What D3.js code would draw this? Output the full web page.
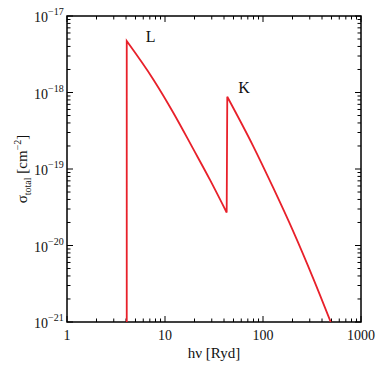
<!DOCTYPE html>
<html>
<head>
<meta charset="utf-8">
<script src="https://cdn.jsdelivr.net/npm/d3@7"></script>
<style>
  body { margin: 0; background: #fff; }
  text { font-family: "Liberation Serif", "DejaVu Serif", serif; fill: #111; }
</style>
</head>
<body>
<div id="chart"></div>
<script>
// photon energy [Ryd] and total cross section [cm^2]
const energyL = [4.07, 7.6, 12.2, 19.4, 28.8, 42.6];
const sigmaL = [4.7e-18, 1.48e-18, 5.4e-19, 1.83e-19, 7.2e-20, 2.7e-20];
const energyK = [43.2, 79.6, 127, 204, 326, 491];
const sigmaK = [8.8e-19, 1.98e-19, 5.7e-20, 1.52e-20, 3.7e-21, 1.0e-21];
const edgeLabels = ["L", "K"];

const xTicks = [1, 10, 100, 1000];
const yTicks = [1e-21, 1e-20, 1e-19, 1e-18, 1e-17];

const width = 380, height = 380;
const margin = {top: 16, right: 19, bottom: 58, left: 67};

const svg = d3.select("#chart")
    .append("svg")
    .attr("width", width)
    .attr("height", height);

const x = d3.scaleLog()
    .domain([1, 1000])
    .range([margin.left, width - margin.right]);

const y = d3.scaleLog()
    .domain([1e-21, 1e-17])
    .range([height - margin.bottom, margin.top]);

const x0 = x.range()[0], x1 = x.range()[1];
const y0 = y.range()[0], y1 = y.range()[1];

// minor ticks 2..9 in every decade
function minors(lo, hi) {
    const out = [];
    for (let e = Math.log10(lo); e < Math.log10(hi); e++) {
        for (let m = 2; m <= 9; m++) out.push(m * Math.pow(10, e));
    }
    return out;
}
const xMinor = minors(1, 1000);
const yMinor = minors(1e-21, 1e-17);

const ticks = svg.append("g").attr("stroke", "#000").attr("stroke-width", 1);

// bottom and top
[[y0, -1], [y1, 1]].forEach(([yy, dir]) => {
    ticks.selectAll(null).data(xTicks).enter().append("line")
        .attr("x1", d => x(d)).attr("x2", d => x(d))
        .attr("y1", yy).attr("y2", yy + dir * 6);
    ticks.selectAll(null).data(xMinor).enter().append("line")
        .attr("x1", d => x(d)).attr("x2", d => x(d))
        .attr("y1", yy).attr("y2", yy + dir * 3.5);
});
// left and right
[[x0, 1], [x1, -1]].forEach(([xx, dir]) => {
    ticks.selectAll(null).data(yTicks).enter().append("line")
        .attr("y1", d => y(d)).attr("y2", d => y(d))
        .attr("x1", xx).attr("x2", xx + dir * 6);
    ticks.selectAll(null).data(yMinor).enter().append("line")
        .attr("y1", d => y(d)).attr("y2", d => y(d))
        .attr("x1", xx).attr("x2", xx + dir * 3.5);
});

// frame
svg.append("rect")
    .attr("x", x0).attr("y", y1)
    .attr("width", x1 - x0).attr("height", y0 - y1)
    .attr("fill", "none")
    .attr("stroke", "#000")
    .attr("stroke-width", 1.5);

// x tick labels
svg.selectAll(".xl")
    .data(xTicks)
    .enter().append("text")
    .attr("x", d => x(d))
    .attr("y", y0 + 18)
    .attr("text-anchor", "middle")
    .attr("font-size", 14)
    .text(d => d);

// y tick labels as 10^n
const yl = svg.selectAll(".yl")
    .data(yTicks)
    .enter().append("text")
    .attr("x", x0 - 33)
    .attr("y", d => y(d) + 6)
    .attr("font-size", 14);
yl.append("tspan").text("10");
yl.append("tspan")
    .attr("dy", -7)
    .attr("font-size", 10)
    .text(d => "\u2212" + Math.round(-Math.log10(d)));

// axis titles
const xt = svg.append("text")
    .attr("x", (x0 + x1) / 2)
    .attr("y", 358)
    .attr("text-anchor", "middle")
    .attr("font-size", 15);
xt.append("tspan").text("h\u03bd [Ryd]");

const yt = svg.append("text")
    .attr("transform", `translate(27,${(y0 + y1) / 2}) rotate(-90)`)
    .attr("text-anchor", "middle")
    .attr("font-size", 15);
yt.append("tspan").text("\u03c3");
yt.append("tspan").attr("dy", 4).attr("font-size", 10).text("total");
yt.append("tspan").attr("dy", -4).text(" [cm");
yt.append("tspan").attr("dy", -6).attr("font-size", 10).text("\u22122");
yt.append("tspan").attr("dy", 6).text("]");

// cross-section curve: L edge rise, L branch, K edge jump, K branch
const line = d3.line()
    .x(d => x(d[0]))
    .y(d => y(d[1]))
    .curve(d3.curveMonotoneX);

const ptsL = energyL.map((e, i) => [e, sigmaL[i]]);
const ptsK = energyK.map((e, i) => [e, sigmaK[i]]);

const pathD = `M${x(energyL[0])},${y0}` +
    line(ptsL).replace(/^M/, "L") +
    line(ptsK).replace(/^M/, "L");

svg.append("clipPath").attr("id", "clip")
    .append("rect")
    .attr("x", x0).attr("y", y1)
    .attr("width", x1 - x0).attr("height", y0 - y1);

svg.append("path")
    .attr("d", pathD)
    .attr("clip-path", "url(#clip)")
    .attr("fill", "none")
    .attr("stroke", "#e8202a")
    .attr("stroke-width", 1.8)
    .attr("stroke-linejoin", "miter");

// edge labels next to the peaks
const peaks = [[energyL[0], sigmaL[0]], [energyK[0], sigmaK[0]]];
svg.selectAll(".edge")
    .data(edgeLabels)
    .enter().append("text")
    .attr("x", (d, i) => x(peaks[i][0]) + (i === 0 ? 19 : 11))
    .attr("y", (d, i) => y(peaks[i][1]) + (i === 0 ? 1 : -4))
    .attr("font-size", 16)
    .text(d => d);
</script>
</body>
</html>
